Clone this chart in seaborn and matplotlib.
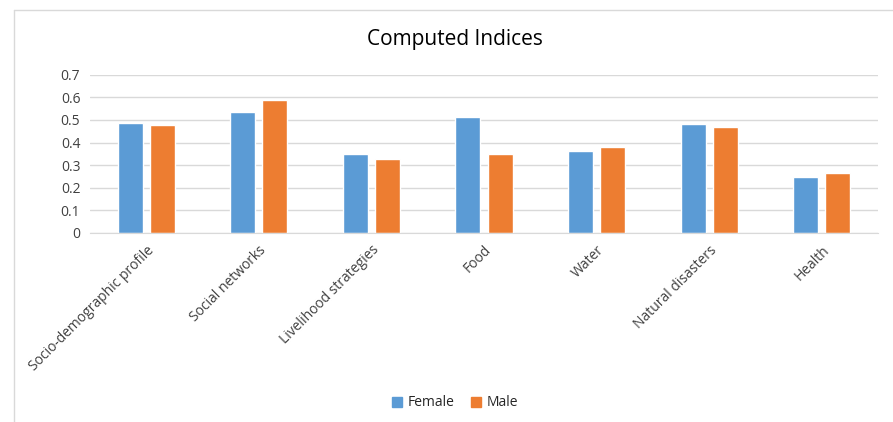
import pandas as pd
import seaborn as sns
import matplotlib.pyplot as plt
from matplotlib.lines import Line2D

categories = ['Socio-demographic profile', 'Social networks', 'Livelihood strategies',
              'Food', 'Water', 'Natural disasters', 'Health']
female = [0.487, 0.535, 0.351, 0.511, 0.362, 0.480, 0.247]
male = [0.477, 0.588, 0.329, 0.349, 0.381, 0.468, 0.265]
ticks = [0, 0.1, 0.2, 0.3, 0.4, 0.5, 0.6, 0.7]
tick_labels = ['0', '0.1', '0.2', '0.3', '0.4', '0.5', '0.6', '0.7']

df = pd.DataFrame({'Index': categories * 2,
                   'Value': female + male,
                   'Sex': ['Female'] * len(categories) + ['Male'] * len(categories)})

sns.set_style('white')
plt.rcParams['font.family'] = ['Open Sans', 'DejaVu Sans']

fig = plt.figure(figsize=(8.93, 4.22), dpi=100)
ax = fig.add_axes([90 / 893, 1 - 233 / 422, 788 / 893, 158.3 / 422])

sns.barplot(data=df, x='Index', y='Value', hue='Sex', ax=ax,
            palette={'Female': '#5b9bd5', 'Male': '#ed7d31'}, saturation=1,
            width=0.57, gap=0.22, legend=False)

ax.set_ylim(0, 0.7)
ax.set_xlim(-0.5, 6.5)
ax.set_yticks(ticks)
ax.set_yticklabels(tick_labels, fontsize=10, color='#404040')
ax.set_xticks(range(len(categories)))
ax.set_xticklabels(categories, rotation=45, ha='right', rotation_mode='anchor',
                   fontsize=10, color='#404040')
ax.tick_params(axis='both', length=0, pad=7)
ax.grid(axis='y', color='#d9d9d9', linewidth=1)
ax.set_axisbelow(True)
for s in ['top', 'right', 'left']:
    ax.spines[s].set_visible(False)
ax.spines['bottom'].set_color('#d9d9d9')
ax.set_xlabel('')
ax.set_ylabel('')

fig.text(455 / 893, 1 - 40 / 422, 'Computed Indices', ha='center', va='center',
         fontsize=15, color='#000000')

handles = [plt.Rectangle((0, 0), 1, 1, color='#5b9bd5'),
           plt.Rectangle((0, 0), 1, 1, color='#ed7d31')]
fig.legend(handles, ['Female', 'Male'], loc='center', bbox_to_anchor=(455 / 893, 1 - 403 / 422),
           ncol=2, frameon=False, fontsize=10, handlelength=0.7, handleheight=0.7,
           handletextpad=0.4, columnspacing=1.2)

# chart frame
fig.add_artist(Line2D([13.5 / 893, 13.5 / 893], [0, 1 - 10 / 422], color='#d9d9d9', lw=1))
fig.add_artist(Line2D([13.5 / 893, 1], [1 - 10 / 422, 1 - 10 / 422], color='#d9d9d9', lw=1))

fig.savefig('out.png', dpi=100)
